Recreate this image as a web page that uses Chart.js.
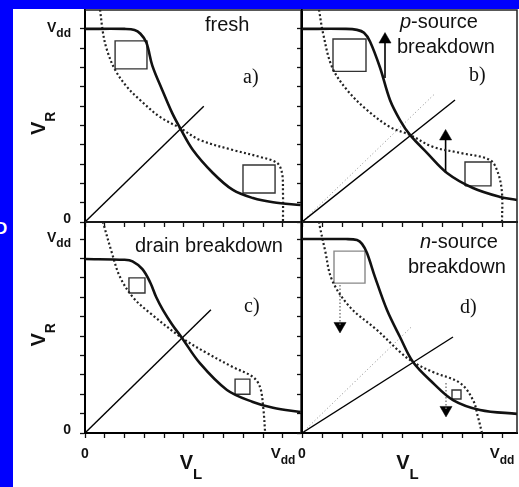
<!DOCTYPE html>
<html>
<head>
<meta charset="utf-8">
<script src="https://cdn.jsdelivr.net/npm/chart.js@4.4.1/dist/chart.umd.min.js"></script>
<style>
  html, body { margin: 0; padding: 0; }
  body { width: 519px; height: 487px; background: #0000fe; position: relative; overflow: hidden; }
  #paper { position: absolute; left: 13px; top: 9px; right: 0; bottom: 0; background: #fff; }
  #edge { position: absolute; left: -5px; top: 219px; color: #fff; font: bold 17px "Liberation Sans", Arial, sans-serif; }
  canvas { position: absolute; left: 0; top: 0; }
</style>
</head>
<body>
<div id="paper"></div>
<div id="edge">D</div>
<canvas id="pa" width="519" height="487"></canvas>
<canvas id="pb" width="519" height="487"></canvas>
<canvas id="pc" width="519" height="487"></canvas>
<canvas id="pd" width="519" height="487"></canvas>
<script>
// Butterfly curves (V_R vs V_L), 4 panels, values in units of Vdd

const TICK_VALUES = [0, 0.1, 0.2, 0.3, 0.4, 0.5, 0.6, 0.7, 0.8, 0.9, 1];

// a) fresh
const aSolid = [[0,1],[0.2,1],[0.25,0.995],[0.28,0.975],[0.31,0.93],[0.34,0.81],[0.39,0.684],[0.44,0.565],[0.48,0.487],[0.545,0.373],[0.646,0.254],[0.747,0.166],[0.848,0.124],[0.95,0.102],[1.09,0.088]];
const aDotted = [[0.076,1.1],[0.091,0.979],[0.111,0.891],[0.152,0.788],[0.212,0.70],[0.278,0.632],[0.379,0.544],[0.48,0.487],[0.58,0.425],[0.747,0.373],[0.884,0.337],[0.97,0.306],[0.995,0.254],[1.0,0.15],[1.0,0]];
const aDiag = [[0,0],[0.6,0.6]];
const aSquares = [[0.152,0.313,0.793,0.938],[0.798,0.96,0.15,0.295]];

// b) p-source breakdown
const bSolid = [[0,1],[0.22,1],[0.275,0.995],[0.31,0.98],[0.34,0.935],[0.39,0.80],[0.44,0.632],[0.49,0.528],[0.54,0.451],[0.625,0.358],[0.725,0.254],[0.855,0.176],[0.99,0.13],[1.075,0.114]];
const bDotted = [[0.085,1.1],[0.105,0.979],[0.15,0.803],[0.225,0.684],[0.325,0.58],[0.44,0.492],[0.54,0.451],[0.655,0.389],[0.79,0.358],[0.94,0.321],[0.98,0.254],[1.0,0.15],[1.0,0]];
const bDiag = [[0,0],[0.765,0.632]];
const bDiagRef = [[0,0],[0.66,0.66]];
const bSquares = [[0.155,0.32,0.78,0.948],[0.815,0.945,0.187,0.311]];
const bArrows = [[0.415,0.746,0.945],[0.718,0.254,0.443]]; // x, tail, head

// c) drain breakdown
const cSolid = [[0,0.897],[0.2,0.893],[0.24,0.885],[0.29,0.845],[0.33,0.775],[0.36,0.70],[0.394,0.634],[0.44,0.56],[0.49,0.49],[0.58,0.36],[0.717,0.222],[0.848,0.16],[0.95,0.13],[1.09,0.108]];
const cDotted = [[0.09,1.09],[0.136,0.928],[0.177,0.804],[0.242,0.70],[0.328,0.619],[0.49,0.49],[0.616,0.412],[0.747,0.34],[0.848,0.289],[0.884,0.237],[0.9,0.134],[0.91,0]];
const cDiag = [[0,0],[0.636,0.636]];
const cSquares = [[0.222,0.303,0.722,0.80],[0.758,0.833,0.2,0.278]];

// d) n-source breakdown
const dSolid = [[0,1],[0.22,1],[0.275,0.995],[0.30,0.975],[0.325,0.928],[0.365,0.804],[0.425,0.634],[0.49,0.495],[0.555,0.366],[0.655,0.258],[0.755,0.17],[0.89,0.119],[1.08,0.098]];
const dDotted = [[0.085,1.09],[0.09,1.06],[0.115,0.943],[0.15,0.789],[0.24,0.649],[0.375,0.531],[0.49,0.418],[0.555,0.366],[0.655,0.314],[0.79,0.258],[0.855,0.17],[0.88,0.082],[0.9,0]];
const dDiag = [[0,0],[0.755,0.495]];
const dDiagRef = [[0,0],[0.55,0.55]];
const dSquares = [[0.16,0.315,0.773,0.938],[0.75,0.795,0.175,0.222]];
const dArrows = [[0.19,0.763,0.552],[0.72,0.258,0.119]];

const W = 519, H = 487, TICK = 5;
const SANS = '"Liberation Sans", Arial, sans-serif';
const SERIF = '"Liberation Serif", "Times New Roman", serif';

function pts(arr) {
  return arr.map(p => ({ x: p[0], y: p[1] }));
}

function line(arr, opts) {
  return Object.assign({
    data: pts(arr), showLine: true, pointRadius: 0, fill: false,
    borderColor: '#000', borderWidth: 1.4, tension: 0
  }, opts || {});
}

function solidCurve(arr) { return line(arr, { borderWidth: 2.6, tension: 0.35, borderColor: '#111' }); }
function dottedCurve(arr) { return line(arr, { borderWidth: 2.2, tension: 0.35, borderDash: [2, 2.4], borderColor: '#222' }); }
function refDiag(arr) { return line(arr, { borderWidth: 1, borderDash: [1, 2.5], borderColor: '#888' }); }

function square(s, color) {
  const [x0, x1, y0, y1] = s;
  return line([[x0,y0],[x1,y0],[x1,y1],[x0,y1],[x0,y0]], { borderColor: color || '#333', borderWidth: 1.4 });
}

function arrows(list, up, shaft) {
  const out = [];
  list.forEach(a => {
    const [x, tail, head] = a;
    out.push(line([[x, tail], [x, head]], shaft));
    out.push({
      data: [{ x: x, y: head }], showLine: false,
      pointStyle: 'triangle', pointRadius: 7, pointRotation: up ? 0 : 180,
      pointBackgroundColor: '#000', pointBorderColor: '#000', pointBorderWidth: 0.5
    });
  });
  return out;
}

function axis(max) {
  return {
    type: 'linear', min: 0, max: max,
    afterBuildTicks: s => { s.ticks = TICK_VALUES.map(v => ({ value: v })); },
    ticks: { display: false },
    grid: { drawOnChartArea: false, drawTicks: true, tickLength: TICK, tickColor: '#111', tickWidth: 1.3 },
    border: { display: true, color: '#000', width: 2 }
  };
}

// V with subscript
function sub(ctx, x, y, main, small, size, smallSize, drop, align) {
  ctx.font = 'bold ' + size + 'px ' + SANS;
  const w1 = ctx.measureText(main).width;
  ctx.font = 'bold ' + smallSize + 'px ' + SANS;
  const w2 = ctx.measureText(small).width;
  let x0 = x;
  if (align === 'right') x0 = x - w1 - w2;
  if (align === 'center') x0 = x - (w1 + w2) / 2;
  ctx.textAlign = 'left';
  ctx.font = 'bold ' + size + 'px ' + SANS;
  ctx.fillText(main, x0, y);
  ctx.font = 'bold ' + smallSize + 'px ' + SANS;
  ctx.fillText(small, x0 + w1, y + drop);
}

function labelPlugin(cfg) {
  return {
    id: 'labels',
    afterDraw(chart) {
      const ctx = chart.ctx;
      const xs = chart.scales.x, ys = chart.scales.y;
      const area = chart.chartArea;
      ctx.save();
      // frame top / right
      ctx.strokeStyle = '#222';
      ctx.lineWidth = 1.5;
      ctx.beginPath();
      ctx.moveTo(area.left, area.top);
      ctx.lineTo(area.right, area.top);
      ctx.lineTo(area.right, area.bottom);
      ctx.stroke();

      ctx.fillStyle = '#111';
      ctx.textBaseline = 'alphabetic';
      if (cfg.yLabels) {
        const yv = ys.getPixelForValue(1);
        sub(ctx, area.left - 14, yv + 3, 'V', 'dd', 14, 12, 5, 'right');
        ctx.font = 'bold 14px ' + SANS;
        ctx.textAlign = 'right';
        ctx.fillText('0', area.left - 14, ys.getPixelForValue(0) + 1);
        // V_R
        ctx.save();
        ctx.translate(area.left - 40, (area.top + area.bottom) / 2 + 19);
        ctx.rotate(-Math.PI / 2);
        sub(ctx, 0, 0, 'V', 'R', 20, 14, 10, 'left');
        ctx.restore();
      }
      if (cfg.xLabels) {
        const base = area.bottom + 25;
        ctx.font = 'bold 14px ' + SANS;
        ctx.textAlign = 'center';
        ctx.fillText('0', xs.getPixelForValue(0), base);
        sub(ctx, xs.getPixelForValue(1), base, 'V', 'dd', 15, 12, 6, 'center');
        sub(ctx, (area.left + area.right) / 2 - 2, base + 11, 'V', 'L', 20, 15, 10, 'center');
      }
      cfg.texts.forEach(t => {
        ctx.textAlign = 'left';
        let x = t.x;
        if (t.italic) {
          ctx.font = 'italic 20px ' + SANS;
          ctx.fillText(t.italic, x, t.y);
          x += ctx.measureText(t.italic).width;
        }
        ctx.font = (t.serif ? '20px ' + SERIF : '20px ' + SANS);
        ctx.fillText(t.text, x, t.y);
      });
      ctx.restore();
    }
  };
}

function makePanel(id, cfg) {
  const [L, T, R, B] = cfg.box;
  new Chart(document.getElementById(id), {
    type: 'scatter',
    data: { datasets: cfg.datasets },
    options: {
      responsive: false, animation: false, events: [],
      layout: { autoPadding: false, padding: { left: L - TICK, top: T, right: W - R, bottom: H - B - TICK } },
      plugins: { legend: { display: false }, tooltip: { enabled: false } },
      scales: { x: axis(cfg.xMax), y: axis(cfg.yMax) }
    },
    plugins: [labelPlugin(cfg)]
  });
}

makePanel('pa', {
  box: [85, 10, 301, 222], xMax: 1.091, yMax: 1.098, yLabels: true,
  datasets: [solidCurve(aSolid), dottedCurve(aDotted), line(aDiag)].concat(aSquares.map(s => square(s))),
  texts: [{ x: 205, y: 31, text: 'fresh' }, { x: 243, y: 83, text: 'a)', serif: true }]
});

makePanel('pb', {
  box: [302, 10, 517, 222], xMax: 1.075, yMax: 1.098,
  datasets: [solidCurve(bSolid), dottedCurve(bDotted), line(bDiag), refDiag(bDiagRef)]
    .concat(bSquares.map(s => square(s)))
    .concat(arrows(bArrows, true, { borderWidth: 1.6 })),
  texts: [{ x: 400, y: 28, italic: 'p', text: '-source' }, { x: 397, y: 53, text: 'breakdown' }, { x: 469, y: 81, text: 'b)', serif: true }]
});

makePanel('pc', {
  box: [85, 222, 301, 433], xMax: 1.091, yMax: 1.088, yLabels: true, xLabels: true,
  datasets: [solidCurve(cSolid), dottedCurve(cDotted), line(cDiag)].concat(cSquares.map(s => square(s))),
  texts: [{ x: 135, y: 252, text: 'drain breakdown' }, { x: 244, y: 312, text: 'c)', serif: true }]
});

makePanel('pd', {
  box: [302, 222, 517, 433], xMax: 1.075, yMax: 1.088, xLabels: true,
  datasets: [solidCurve(dSolid), dottedCurve(dDotted), line(dDiag), refDiag(dDiagRef),
    square(dSquares[0], '#888'), square(dSquares[1])]
    .concat(arrows(dArrows, false, { borderWidth: 1.4, borderDash: [1.5, 2], borderColor: '#777' })),
  texts: [{ x: 420, y: 248, italic: 'n', text: '-source' }, { x: 408, y: 273, text: 'breakdown' }, { x: 460, y: 313, text: 'd)', serif: true }]
});
</script>
</body>
</html>
